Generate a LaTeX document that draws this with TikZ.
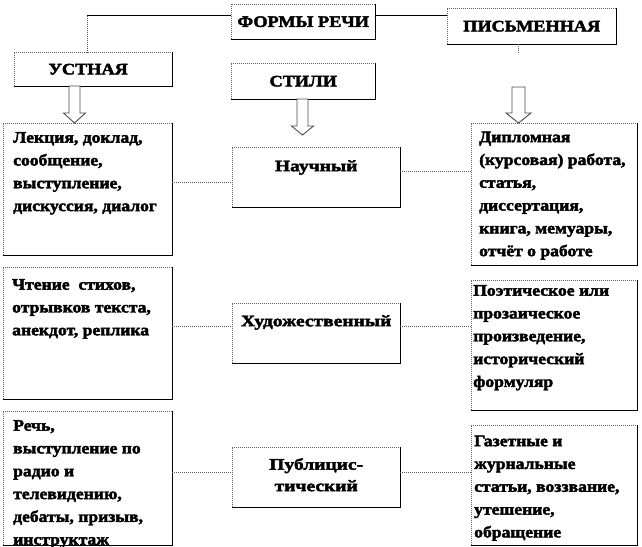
\documentclass[tikz,border=0pt]{standalone}
\usepackage{fontspec}
\setmainfont{Liberation Serif}
\newfontfamily\cfont{Liberation Serif}[BoldFeatures={FakeStretch=1.1,FakeBold=2.5}]
\newfontfamily\hfont{Liberation Serif}[BoldFeatures={FakeStretch=1.14,FakeBold=2.5}]
\newfontfamily\sfont{Liberation Serif}[BoldFeatures={FakeStretch=1.22,FakeBold=2.5}]
\usetikzlibrary{calc}
\newcommand{\cbx}[5]{\begin{minipage}[c][#2][t]{#1}\cfont\fontsize{16}{22.8}\selectfont\bfseries\raggedright\leftskip=#4\relax\vspace*{#3}#5\end{minipage}}
\newcommand{\sbx}[4]{\begin{minipage}[c][#2][t]{#1}\sfont\fontsize{16}{21.5}\selectfont\bfseries\centering\vspace*{#3}#4\end{minipage}}
\tikzset{
  box/.style={draw=none, fill=white, inner sep=0pt, anchor=north west},
  hbox/.style={box, font=\hfont\fontsize{16}{19}\selectfont\bfseries, align=center},
  solidline/.style={draw=black, line width=0.8pt},
  greyedge/.style={draw=black!60, line width=1pt, dash pattern=on 1pt off 1pt},
  blackedge/.style={draw=black, line width=1pt},
  dotline/.style={draw=black!65, line width=1pt, dash pattern=on 1pt off 1pt},
  barrow/.style={draw=black!70, line width=0.9pt, fill=white, line join=miter},
}
\begin{document}
\begin{tikzpicture}[x=1pt, y=-1pt]
\useasboundingbox (0,0) rectangle (642,546);
% header boxes
\node[hbox, minimum width=144pt, minimum height=35pt] (formy) at (231,4) {ФОРМЫ РЕЧИ};
\node[hbox, minimum width=169pt, minimum height=36pt] (pism) at (447,8) {ПИСЬМЕННАЯ};
\node[hbox, minimum width=158pt, minimum height=34pt] (ust) at (14,52) {\hspace*{-10pt}УСТНАЯ};
\node[hbox, minimum width=144pt, minimum height=36pt] (stili) at (231,63) {СТИЛИ};
% content boxes left
\node[box] (lek) at (3,123) {\cbx{169pt}{132pt}{9pt}{10pt}{Лекция, доклад,\\ сообщение,\\ выступление,\\ дискуссия, диалог}};
\node[box] (chten) at (3,267) {\cbx{169pt}{132pt}{12pt}{9pt}{Чтение\ \ стихов,\\ отрывков текста,\\ анекдот, реплика}};
\node[box] (rech) at (3,411) {\cbx{169pt}{134pt}{9pt}{10pt}{Речь,\\ выступление по\\ радио и\\ телевидению,\\ дебаты, призыв,\\ инструктаж}};
% style boxes
\node[box] (nauch) at (232,147) {\sbx{168pt}{60pt}{13pt}{Научный}};
\node[box] (hud) at (232,303) {\sbx{168pt}{60pt}{12pt}{Художественный}};
\node[box] (publ) at (232,447) {\sbx{168pt}{60pt}{11pt}{Публицис-\\ тический}};
% content boxes right
\node[box] (dipl) at (471,123) {\cbx{166pt}{142pt}{8.5pt}{8pt}{Дипломная\\ (курсовая) работа,\\ статья,\\ диссертация,\\ книга, мемуары,\\ отчёт о работе}};
\node[box] (poet) at (471,280) {\cbx{166pt}{130pt}{5pt}{2pt}{Поэтическое или\\ прозаическое\\ произведение,\\ исторический\\ формуляр}};
\node[box] (gaz) at (471,425) {\cbx{166pt}{120pt}{10.5pt}{3pt}{Газетные и\\ журнальные\\ статьи, воззвание,\\ утешение,\\ обращение}};
% box frames: grey dotted left/top, black right/bottom
\foreach \n in {formy,pism,ust,stili,lek,chten,rech,nauch,hud,publ,dipl,poet,gaz}{
  \draw[greyedge] (\n.south west) -- (\n.north west) -- (\n.north east);
  \draw[blackedge] (\n.north east) -- (\n.south east) -- (\n.south west);
}
% top connectors
\coordinate (j1) at (87,15.5);
\coordinate (j2) at (518,0);
\draw[solidline] (j1 -| formy.west) -- (j1);
\draw[dotline] (j1) -- (j1 |- ust.north);
\draw[solidline] (j1 -| formy.east) -- (j1 -| pism.west);
\draw[dotline] (j2 |- pism.south) -- ++(0,9);
% row connectors
\coordinate (r1a) at (0,182.5);
\coordinate (r1b) at (0,171);
\coordinate (r2) at (0,326);
\coordinate (r3) at (0,472);
\draw[dotline] (r1a -| lek.east) -- (r1a -| nauch.west);
\draw[dotline] (r1b -| nauch.east) -- (r1b -| dipl.west);
\draw[dotline] (r2 -| chten.east) -- (r2 -| hud.west);
\draw[dotline] (r2 -| hud.east) -- (r2 -| poet.west);
\draw[dotline] (r3 -| rech.east) -- (r3 -| publ.west);
\draw[dotline] (r3 -| publ.east) -- (r3 -| gaz.west);
% block arrows
\draw[barrow] (69,86) -- (80,86) -- (80,113) -- (85.5,113) -- (74.5,123) -- (63.5,113) -- (69,113) -- cycle;
\draw[barrow] (297,99) -- (308,99) -- (308,126) -- (313.5,126) -- (302.5,135) -- (291.5,126) -- (297,126) -- cycle;
\draw[barrow] (512,87) -- (525,87) -- (525,113) -- (531,113) -- (518.5,123) -- (506,113) -- (512,113) -- cycle;
\end{tikzpicture}
\end{document}
